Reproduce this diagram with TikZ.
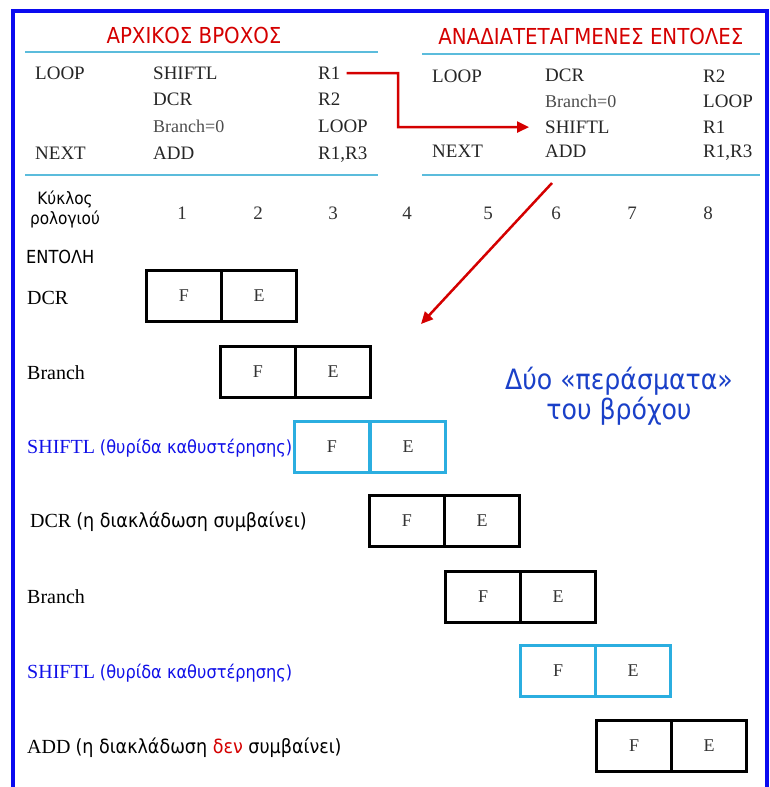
\documentclass[tikz,border=0pt]{standalone}
\usepackage{fontspec}
\setmainfont{Liberation Serif}
\setsansfont{DejaVu Sans Condensed}
\usetikzlibrary{arrows.meta}
\definecolor{frameblue}{HTML}{0A0AF0}
\definecolor{rulecyan}{HTML}{5BBCDC}
\definecolor{boxcyan}{HTML}{2BAEE0}
\definecolor{hdred}{HTML}{D40000}
\definecolor{lblblue}{HTML}{1010E8}
\definecolor{notblue}{HTML}{1A40C8}
\tikzset{
  hdr/.style={font=\sffamily\fontsize{22}{24}\selectfont, text=hdred},
  tt/.style={font=\rmfamily\fontsize{19}{20}\selectfont, anchor=base west, inner sep=0pt, text=black!85, yshift=-6.3pt},
  ttb/.style={font=\rmfamily\fontsize{18}{20}\selectfont, anchor=base west, inner sep=0pt, text=black!70, yshift=-6pt},
  rule/.style={draw=rulecyan, line width=2.5pt},
  num/.style={font=\rmfamily\fontsize{19}{20}\selectfont, text=black!80},
  lbl/.style={font=\rmfamily\fontsize{20}{22}\selectfont, anchor=base west, inner sep=0pt, yshift=-6.6pt},
  gk/.style={font=\sffamily\fontsize{17}{20}\selectfont},
  cellbox/.style={draw=black, line width=3pt, minimum width=75pt, minimum height=51pt, inner sep=0pt, font=\rmfamily\fontsize{18}{20}\selectfont, text=black!80},
  cellcyan/.style={cellbox, draw=boxcyan},
  redarrow/.style={draw=hdred, line width=2.5pt, -{Triangle[length=12pt,width=11pt]}},
}
\newcommand{\gkA}{\sffamily\fontsize{18}{20}\selectfont}
\newcommand{\gkB}{\sffamily\fontsize{19.5}{22}\selectfont}
\begin{document}
\begin{tikzpicture}[x=1pt,y=-1pt]
\useasboundingbox (0,0) rectangle (770,787);
% frame
\draw[frameblue, line width=3.5pt] (13,790) -- (13,11) -- (767,11) -- (767,790);
% headers
\node[hdr] (h1) at (194,35) {ΑΡΧΙΚΟΣ ΒΡΟΧΟΣ};
\node[hdr] (h2) at (591,36) {ΑΝΑΔΙΑΤΕΤΑΓΜΕΝΕΣ ΕΝΤΟΛΕΣ};
% rules
\draw[rule] (25,52) -- (378,52);
\draw[rule] (25,175) -- (378,175);
\draw[rule] (422,54) -- (760,54);
\draw[rule] (422,175) -- (760,175);
% left table
\node[tt] (l1a) at (35,73) {LOOP};
\node[tt] (l1b) at (153,73) {SHIFTL};
\node[tt] (l1c) at (318,73) {R1};
\node[tt] (l2b) at (153,99) {DCR};
\node[tt] (l2c) at (318,99) {R2};
\node[ttb] (l3b) at (153,126) {Branch=0};
\node[tt] (l3c) at (318,126) {LOOP};
\node[tt] (l4a) at (35,153) {NEXT};
\node[tt] (l4b) at (153,153) {ADD};
\node[tt] (l4c) at (318,153) {R1,R3};
% right table
\node[tt] (r1a) at (432,76) {LOOP};
\node[tt] (r1b) at (545,75) {DCR};
\node[tt] (r1c) at (703,76) {R2};
\node[ttb] (r2b) at (545,101) {Branch=0};
\node[tt] (r2c) at (703,101) {LOOP};
\node[tt] (r3b) at (545,127) {SHIFTL};
\node[tt] (r3c) at (703,127) {R1};
\node[tt] (r4a) at (432,151) {NEXT};
\node[tt] (r4b) at (545,151) {ADD};
\node[tt] (r4c) at (703,151) {R1,R3};
% red bent arrow
\coordinate (bend) at (398,73);
\draw[redarrow] ([xshift=6pt]l1c.east) -- (bend) |- ([xshift=-16pt]r3b.west);
% cycle header
\node[gk, align=center, inner sep=0pt] (kyk) at (65,209) {Κύκλος\\[0pt]ρολογιού};
\node[num] (c1) at (182,213) {1};
\node[num] (c2) at (258,213) {2};
\node[num] (c3) at (333,213) {3};
\node[num] (c4) at (407,213) {4};
\node[num] (c5) at (488,213) {5};
\node[num] (c6) at (556,213) {6};
\node[num] (c7) at (632,213) {7};
\node[num] (c8) at (708,213) {8};
\node[gk, anchor=west, inner sep=0pt, font=\sffamily\fontsize{18}{20}\selectfont] (ent) at (26,257) {ΕΝΤΟΛΗ};
% diagonal arrow
\coordinate (d1) at (552,183);
\coordinate (d2) at (421,324);
\draw[redarrow] (d1) -- (d2);
% rows
\node[lbl] (L1) at (27,298) {DCR};
\node[cellbox] (b1f) at (184,296) {F};
\node[cellbox] (b1e) at (259,296) {E};

\node[lbl] (L2) at (27,373) {Branch};
\node[cellbox] (b2f) at (258,372) {F};
\node[cellbox] (b2e) at (333,372) {E};

\node[lbl, text=lblblue] (L3) at (27,447) {SHIFTL {\gkA(θυρίδα καθυστέρησης)}};
\node[cellcyan] (b3f) at (332,447) {F};
\node[cellcyan] (b3e) at (408,447) {E};

\node[lbl] (L4) at (30,521) {DCR {\gkB(η διακλάδωση συμβαίνει)}};
\node[cellbox] (b4f) at (407,521) {F};
\node[cellbox] (b4e) at (482,521) {E};

\node[lbl] (L5) at (27,597) {Branch};
\node[cellbox] (b5f) at (483,597) {F};
\node[cellbox] (b5e) at (558,597) {E};

\node[lbl, text=lblblue] (L6) at (27,672) {SHIFTL {\gkA(θυρίδα καθυστέρησης)}};
\node[cellcyan] (b6f) at (558,671) {F};
\node[cellcyan] (b6e) at (633,671) {E};

\node[lbl] (L7) at (27,747) {ADD {\gkB(η διακλάδωση \textcolor{hdred}{δεν} συμβαίνει)}};
\node[cellbox] (b7f) at (634,746) {F};
\node[cellbox] (b7e) at (709,746) {E};
% note
\node[font=\sffamily\fontsize{28}{30}\selectfont, text=notblue, align=center] (note) at (619,396) {Δύο «περάσματα»\\του βρόχου};
\end{tikzpicture}
\end{document}
